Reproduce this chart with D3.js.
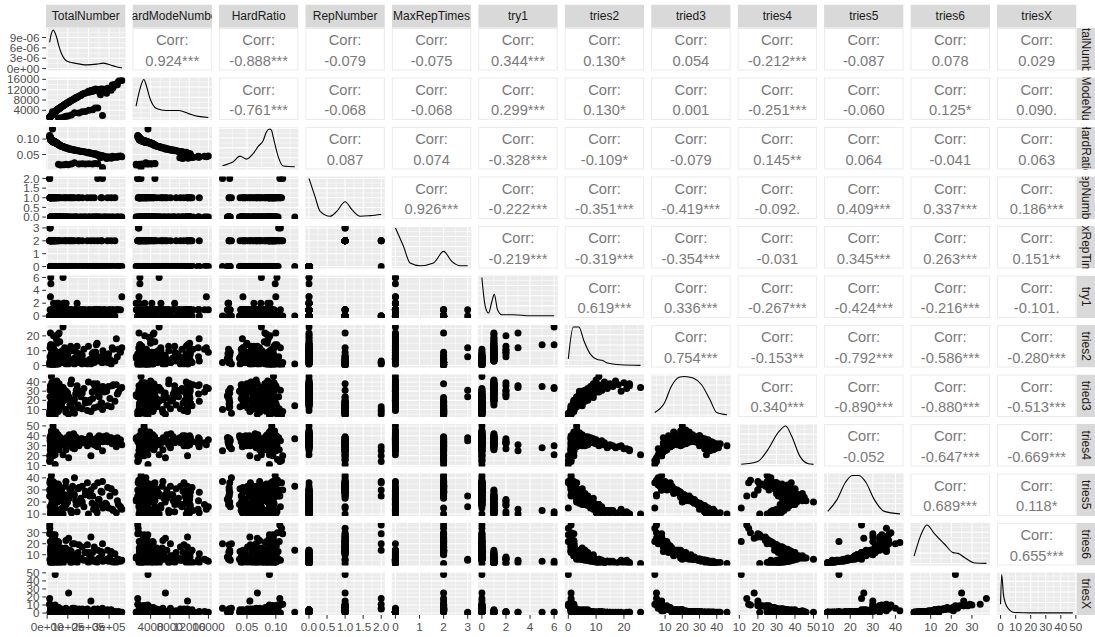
<!DOCTYPE html>
<html><head><meta charset="utf-8">
<script src="https://cdn.jsdelivr.net/npm/d3@7"></script>
<style>body{margin:0;background:#fff}svg{display:block}text{font-family:"Liberation Sans",Arial,Helvetica,sans-serif}</style>
</head><body><svg id="c" width="1095" height="637"></svg>
<script>
const varNames = ["TotalNumber","HardModeNumber","HardRatio","RepNumber","MaxRepTimes","try1","tries2","tried3","tries4","tries5","tries6","triesX"];

const totalNumber = [361908,345000,335000,320000,310000,298000,288000,276000,265000,258000,
252000,242000,235000,225000,212000,200000,185000,170000,158000,145000,
138000,128000,118000,110000,104000,97000,93000,89000,85000,81000,
77000,73000,70000,67000,64000,61000,58000,57000,55500,54000,
52500,51000,49500,48000,46500,45000,44000,43000,42000,41000,
39000,38000,37000,36000,35000,34000,33000,32000,31000,30500,
30000,29000,28500,28000,27000,26500,26000,25500,25000,24000,
23500,23000,22000,21000,20500,19500,19000,18500,18000,17500,
17000,16500,16000,15500,15000,14500,14000,13000,12500,12000,
55000,80630,101503,132286,153880,185000,220000,245000,268000,
355000,340000,328000,315000,304000,293000,282000,270000,261000,248000,
238000,228000,218000,206000,195000,178000,163000,150000,141000,132000,
123000,114000,107000,99000,91000,83000,75000,68000,62000,65000,
92000,117000,170000,202000,232000,59000,53000,50000,47000,44500,
42500,40000,38500,36500,35500,34500,33500,32500,31500,29500,
27500,26800,25800,24500,22500,21500,20800,19800,18800,17800,16800];
const hardModeNumber = [15562,15180,14070,12800,11780,12218,10656,12144,12190,10062,
12096,12100,12220,11925,11660,11400,10730,10200,9638,8990,
8694,8192,7788,7370,7072,6790,6603,6408,6120,5994,
5775,5548,5390,5226,5056,4880,4698,4731,4551,4536,
4463,4284,4257,4176,3999,3960,3828,3827,3696,3690,
3471,3458,3256,3240,3220,3026,3003,2976,2790,2806,
2820,2639,2651,2660,2484,2491,3458,2448,2325,2280,
2280,2162,2156,2016,2030,1950,1843,1869,1782,1785,
1666,1716,1600,1643,1545,1566,1470,1430,1338,1344,
990,1362,1763,3017,2924,3515,4180,4900,2010,
15975,13940,14104,13860,12160,12599,11562,12150,12267,11408,
11662,11628,11336,11124,10920,10502,9780,9300,9024,8580,
8118,7752,7383,7029,6552,6142,5700,5236,4898,1040,
1656,2223,3400,4040,4872,4838,4452,4300,3995,3916,
3783,3600,3427,3322,3195,3174,3116,2958,2961,2714,
2613,2492,2477,2303,2183,2043,2038,1901,1861,1727,1697];
const hardRatio = [0.043,0.044,0.042,0.040,0.038,0.041,0.037,0.044,0.046,0.039,
0.048,0.050,0.052,0.053,0.055,0.057,0.058,0.060,0.061,0.062,
0.063,0.064,0.066,0.067,0.068,0.070,0.071,0.072,0.072,0.074,
0.075,0.076,0.077,0.078,0.079,0.080,0.081,0.083,0.082,0.084,
0.085,0.084,0.086,0.087,0.086,0.088,0.087,0.089,0.088,0.090,
0.089,0.091,0.088,0.090,0.092,0.089,0.091,0.093,0.090,0.092,
0.094,0.091,0.093,0.095,0.092,0.094,0.133,0.096,0.093,0.095,
0.097,0.094,0.098,0.096,0.099,0.100,0.097,0.101,0.099,0.102,
0.098,0.104,0.100,0.106,0.103,0.108,0.105,0.110,0.107,0.112,
0.018,0.017,0.017,0.023,0.019,0.019,0.019,0.020,0.0075,
0.045,0.041,0.043,0.044,0.040,0.043,0.041,0.045,0.047,0.046,
0.049,0.051,0.052,0.054,0.056,0.059,0.060,0.062,0.064,0.065,
0.066,0.068,0.069,0.071,0.072,0.074,0.076,0.077,0.079,0.016,
0.018,0.019,0.020,0.020,0.021,0.082,0.084,0.086,0.085,0.088,
0.089,0.090,0.089,0.091,0.090,0.092,0.093,0.091,0.094,0.092,
0.095,0.093,0.096,0.094,0.097,0.095,0.098,0.096,0.099,0.097,0.101];
const repNumber = [0,0,0,0,1,0,0,0,1,0, 0,0,0,0,1,0,0,1,0,0, 0,0,0,1,1,0,0,1,0,1,
0,0,0,0,0,0,1,0,1,0, 0,0,0,1,0,1,0,0,0,1, 1,0,1,0,0,0,0,1,0,0,
0,1,0,1,0,0,0,1,1,0, 0,0,0,0,1,1,1,1,0,0, 1,0,0,1,1,1,1,1,2,2, 0,0,0,1,1,0,0,2,2,
0,0,1,0,0,1,0,0,1,0, 0,1,0,0,1,0,0,1,0,0, 1,0,0,0,1,0,0,1,0,0, 0,1,0,0,0,0,1,0,0,1,
0,0,1,0,0,1,0,0,1,0, 0,0,1,0,0,1,0,0,1,0,0];
const maxRepTimes = [0,0,0,0,2,0,0,0,2,0, 0,0,0,0,2,0,0,2,0,0, 0,0,0,2,2,0,0,2,0,2,
0,0,0,0,0,0,2,0,2,0, 0,0,0,2,0,2,0,0,0,2, 2,0,2,0,0,0,0,2,0,0,
0,2,0,2,0,0,0,2,2,0, 0,0,0,0,2,2,2,2,0,0, 2,0,0,2,2,3,3,2,2,2, 0,0,0,2,2,0,0,2,0,
0,0,2,0,0,2,0,0,2,0, 0,2,0,0,2,0,0,2,0,0, 2,0,0,0,2,0,0,2,0,0, 0,2,0,0,0,0,2,0,0,2,
0,0,2,0,0,2,0,0,2,0, 0,0,2,0,0,2,0,0,2,0,0];
const try1 = [3,1,1,1,0,1,0,1,0,1, 1,1,1,1,0,1,1,0,1,2, 1,0,1,1,0,1,1,0,1,1,
6,1,0,1,0,1,1,0,0,1, 0,0,2,0,1,0,0,0,1,0, 0,0,0,0,0,0,0,0,2,0,
1,0,0,0,0,0,0,0,0,0, 0,1,0,0,0,0,0,0,5,6, 0,0,3,0,0,1,0,0,0,0, 2,2,0,0,0,0,0,0,0,
1,1,0,1,1,0,1,1,0,1, 1,0,1,1,0,1,1,0,1,1, 0,1,0,1,0,2,1,0,1,1, 2,0,1,0,1,0,0,0,1,0,
0,0,0,0,0,0,1,0,0,0, 0,0,0,0,1,0,0,0,0,0,0];
const tries2 = [12,11,18,11,1,8,5,7,2,6, 4,15,9,9,1,13,3,1,8,13, 4,2,10,3,1,5,3,2,12,7,
26,10,2,5,2,16,22,5,1,21, 3,1,9,4,17,2,6,2,19,1, 0,5,1,10,4,7,5,1,20,3,
6,9,3,0,8,3,1,6,2,7, 4,4,4,11,1,5,4,2,14,14, 5,1,22,2,1,12,6,0,1,2, 6,8,4,1,2,2,6,3,2,
9,6,3,12,4,2,7,10,3,5, 14,2,8,4,1,11,6,3,9,5, 2,13,4,7,1,10,4,2,8,5, 11,2,7,3,9,4,1,6,15,2,
5,3,1,7,4,2,11,3,1,6, 2,4,1,5,13,2,3,8,1,4,2];
const tried3 = [34,29,37,37,13,35,30,29,17,31, 24,38,31,38,8,40,17,11,30,36, 27,19,42,15,5,25,21,10,31,20,
34,34,16,22,18,35,38,20,9,33, 19,12,27,16,41,14,28,15,30,10, 4,26,8,29,23,33,27,7,39,22,
24,23,20,6,27,24,14,19,9,25, 30,20,21,46,8,17,18,13,35,33, 14,9,36,11,5,31,24,4,5,8, 26,24,25,6,12,20,22,13,10,
33,27,19,36,22,14,30,35,17,26, 37,12,29,20,9,33,24,15,31,21, 11,38,23,28,7,31,19,13,27,25, 30,16,28,18,33,21,8,25,36,12,
24,20,6,30,18,10,35,16,9,27, 14,22,7,26,39,11,19,32,10,17,15];
const tries4 = [31,33,29,34,38,36,40,39,39,38, 40,31,37,33,20,32,36,33,35,33, 39,42,32,35,18,34,38,34,34,31,
21,35,35,35,33,30,26,38,28,27, 41,40,35,37,28,36,38,44,30,31, 11,39,25,36,43,37,36,22,27,46,
36,33,50,20,38,44,37,30,24,36, 40,42,37,30,25,32,34,29,28,30, 30,38,25,26,16,35,38,15,14,20, 37,34,38,27,30,36,32,29,25,
36,38,37,32,38,34,37,34,35,39, 30,31,36,40,30,33,37,36,35,36, 28,31,41,36,26,33,35,33,34,38, 32,35,37,36,35,39,27,36,30,32,
40,43,21,38,33,30,34,38,33,39, 37,42,24,41,31,29,45,37,36,31,40];
const tries5 = [14,18,11,13,31,15,18,18,28,18, 22,11,17,14,30,10,29,33,19,12, 21,26,11,30,26,23,25,33,15,25,
10,15,30,25,29,13,10,25,34,12, 26,31,20,28,10,30,20,27,14,35, 15,21,33,18,22,17,22,35,10,21,
23,23,20,37,19,21,33,27,34,22, 19,24,26,10,42,29,28,31,13,12, 31,36,10,30,38,16,25,36,25,30, 21,22,23,40,32,26,25,36,37,
16,21,28,14,25,32,19,15,29,22, 13,33,19,25,36,16,23,31,18,26, 33,13,23,20,37,17,27,31,21,22, 18,30,20,28,16,25,35,22,13,32,
22,24,34,18,29,36,14,29,35,20, 31,23,33,20,12,34,24,17,34,30,30];
const tries6 = [5,6,3,3,13,4,6,5,11,5, 7,3,4,4,26,3,12,17,6,3, 7,9,3,14,25,10,10,16,5,12,
2,4,13,10,14,4,2,10,21,5, 9,12,6,12,2,14,6,9,5,18, 22,7,24,6,7,5,8,26,2,7,
8,10,6,28,7,7,14,14,23,8, 6,8,10,2,21,14,13,18,4,4, 16,13,3,22,30,5,6,34,37,29, 7,8,8,20,19,12,12,14,20,
4,6,11,4,8,14,5,4,13,6, 4,17,6,8,19,5,7,12,5,9, 20,3,7,6,23,6,11,16,7,8, 6,13,6,12,5,9,22,9,4,17,
7,8,28,6,13,17,4,11,17,6, 13,7,26,6,3,18,7,5,15,14,10];
const triesX = [1,2,1,1,4,1,1,1,3,1, 2,1,1,1,15,1,2,5,1,1, 1,2,1,2,25,2,2,5,2,4,
1,1,4,2,4,1,1,2,7,1, 2,4,1,3,1,4,2,3,1,5, 48,2,9,1,1,1,2,9,0,1,
2,2,1,9,1,1,1,4,8,2, 1,1,2,1,3,3,3,7,1,1, 4,3,1,9,10,0,1,11,18,11, 1,2,2,6,5,4,3,5,6,
1,1,2,1,2,4,1,1,3,1, 1,5,1,2,5,1,2,3,1,2, 6,1,2,2,6,1,3,5,2,1, 1,4,1,3,1,2,7,2,1,5,
2,2,10,1,3,5,1,3,5,2, 3,2,9,2,1,6,2,1,4,4,3];

// correlation labels, upper triangle, row by row
const corrValues = [
"0.924***","-0.888***","-0.079","-0.075","0.344***","0.130*","0.054","-0.212***","-0.087","0.078","0.029",
"-0.761***","-0.068","-0.068","0.299***","0.130*","0.001","-0.251***","-0.060","0.125*","0.090.",
"0.087","0.074","-0.328***","-0.109*","-0.079","0.145**","0.064","-0.041","0.063",
"0.926***","-0.222***","-0.351***","-0.419***","-0.092.","0.409***","0.337***","0.186***",
"-0.219***","-0.319***","-0.354***","-0.031","0.345***","0.263***","0.151**",
"0.619***","0.336***","-0.267***","-0.424***","-0.216***","-0.101.",
"0.754***","-0.153**","-0.792***","-0.586***","-0.280***",
"0.340***","-0.890***","-0.880***","-0.513***",
"-0.052","-0.647***","-0.669***",
"0.689***","0.118*",
"0.655***"];

// diagonal density curves
const densTotalX = [12000,20000,29848,38000,46310,57000,70517,94724,143139,191554,239968,271922,320336,352774,361908];
const densTotalY = [7.6e-6,10.0e-6,11.2e-6,10.4e-6,9.0e-6,6.5e-6,4.2e-6,2.2e-6,1.46e-6,1.08e-6,1.28e-6,1.57e-6,0.79e-6,0.29e-6,0.2e-6];
const densHardX = [990,1793,2600,3205,3810,5222,7238,9859,11876,13892,15975];
const densHardY = [11.6,28,37.3,30,19.9,9.3,7.3,7.3,4.3,1.6,0.6];
const densRatioX = [0.0075,0.0166,0.0261,0.0377,0.0494,0.0608,0.0702,0.0782,0.0835,0.0886,0.0925,0.0956,0.1043,0.1129,0.1303,0.133];
const densRatioY = [1.9,3.5,5.9,11.6,8.6,14.3,22,27.6,36,39.3,38,30.9,10.9,1.6,0.9,0.9];
const densRepX = [0,0.17,0.31,0.586,0.77,1.0,1.19,1.42,1.7,2.0];
const densRepY = [40,20.9,5.9,0.9,5.9,15.9,7.6,0.9,1.5,2.6];
const densMaxRepX = [0,0.336,0.61,1.03,1.58,2.0,2.34,2.69,3.0];
const densMaxRepY = [38.5,20.1,3.5,0.8,3.5,15.1,5.1,0.8,0.8];
const densTry1X = [0,0.28,0.555,0.837,1.03,1.3,1.67,2.63,4.0,6.0];
const densTry1Y = [38,9.6,3.0,14.6,21.3,6.3,1.3,1.3,0.3,0.3];
const densTries2X = [0,1.8,3.8,5.6,8.0,10.4,12.2,14.0,18.8,26];
const densTries2Y = [6.5,37.5,37.5,24.1,10.8,5.8,5.1,2.5,0.8,0.2];
const densTried3X = [4,9.6,13.6,18.5,21.4,26.3,31.2,36.1,40,46];
const densTried3Y = [2.6,12.0,28.6,38.0,38.6,37.0,30.3,15.3,2.6,0.3];
const densTries4X = [11,19.9,25.4,30.9,35.0,38.2,42.7,47.3,50];
const densTries4Y = [0.3,3.1,14.8,31.5,38.1,28.1,8.1,0.8,0.2];
const densTries5X = [10,14.2,17.9,20.9,23.9,26.9,30.6,35.1,42];
const densTries5Y = [2.6,14.3,31.0,37.6,37.6,31.0,14.3,2.6,0.2];
const densTries6X = [2,5.2,8.2,11.8,16.7,20.9,23.3,26.6,31.5,37];
const densTries6Y = [7.1,27.1,37.1,28.8,18.8,10.5,9.8,5.5,0.5,0.2];
const densTriesXX = [0,0.73,2.0,4.7,9.0,20,48];
const densTriesXY = [8.3,36.6,16.6,5.0,0.6,0.2,0.2];

// axis breaks and labels
const tickVals = [[0,100000,200000,300000],[4000,8000,12000,16000],[0.05,0.10],[0,0.5,1,1.5,2],[0,1,2,3],[0,2,4,6],[0,10,20],[10,20,30,40],[10,20,30,40,50],[10,20,30,40],[10,20,30],[0,10,20,30,40,50]];
const tickLabels = [["0e+00","1e+05","2e+05","3e+05"],["4000","8000","12000","16000"],["0.05","0.10"],["0.0","0.5","1.0","1.5","2.0"],["0","1","2","3"],["0","2","4","6"],["0","10","20"],["10","20","30","40"],["10","20","30","40","50"],["10","20","30","40"],["10","20","30"],["0","10","20","30","40","50"]];
const densTickVals = [0,3e-6,6e-6,9e-6];
const densTickLabels = ["0e+00","3e-06","6e-06","9e-06"];

// ---------- layout ----------
const X0=46, SX=86.45, PW=79.5, Y0=28, SY=49.5, PH=42.5;
const N=12;
const cols=[totalNumber,hardModeNumber,hardRatio,repNumber,maxRepTimes,try1,tries2,tried3,tries4,tries5,tries6,triesX];
const densX=[densTotalX,densHardX,densRatioX,densRepX,densMaxRepX,densTry1X,densTries2X,densTried3X,densTries4X,densTries5X,densTries6X,densTriesXX];
const densY=[densTotalY,densHardY,densRatioY,densRepY,densMaxRepY,densTry1Y,densTries2Y,densTried3Y,densTries4Y,densTries5Y,densTries6Y,densTriesXY];
function expand(e){const r=(e[1]-e[0])||1;return [e[0]-0.05*r,e[1]+0.05*r];}
const xS=cols.map((v,j)=>d3.scaleLinear().domain(expand(d3.extent(v))).range([X0+j*SX,X0+j*SX+PW]));
const yS=cols.map((v,i)=>d3.scaleLinear().domain(expand(d3.extent(v))).range([Y0+i*SY+PH,Y0+i*SY]));
const dS=densY.map((v,i)=>d3.scaleLinear().domain(expand([0,d3.max(v)])).range([Y0+i*SY+PH,Y0+i*SY]));

const svg=d3.select("#c");
const defs=svg.append("defs");
function clip(id,x,y,w,h){defs.append("clipPath").attr("id",id).append("rect").attr("x",x).attr("y",y).attr("width",w).attr("height",h);return "url(#"+id+")";}
function minorBreaks(maj,dom){const st=maj[1]-maj[0];const ext=[maj[0]-st,...maj,maj[maj.length-1]+st];const out=[];for(let k=0;k<ext.length-1;k++){const m=(ext[k]+ext[k+1])/2;if(m>=dom[0]&&m<=dom[1])out.push(m);}return out;}
function inDom(v,d){return v>=d[0]&&v<=d[1];}

function grid(gp,xs,ys,xMaj,yMaj){
  const xd=xs.domain(),yd=ys.domain(),xr=xs.range(),yr=ys.range();
  minorBreaks(xMaj,xd).forEach(v=>gp.append("line").attr("x1",xs(v)).attr("x2",xs(v)).attr("y1",yr[0]).attr("y2",yr[1]).attr("stroke","#fff").attr("stroke-width",0.55));
  minorBreaks(yMaj,yd).forEach(v=>gp.append("line").attr("y1",ys(v)).attr("y2",ys(v)).attr("x1",xr[0]).attr("x2",xr[1]).attr("stroke","#fff").attr("stroke-width",0.55));
  xMaj.filter(v=>inDom(v,xd)).forEach(v=>gp.append("line").attr("x1",xs(v)).attr("x2",xs(v)).attr("y1",yr[0]).attr("y2",yr[1]).attr("stroke","#fff").attr("stroke-width",1.07));
  yMaj.filter(v=>inDom(v,yd)).forEach(v=>gp.append("line").attr("y1",ys(v)).attr("y2",ys(v)).attr("x1",xr[0]).attr("x2",xr[1]).attr("stroke","#fff").attr("stroke-width",1.07));
}

let k=0;
for(let i=0;i<N;i++){
  for(let j=0;j<N;j++){
    const px=X0+j*SX, py=Y0+i*SY;
    const gp=svg.append("g");
    if(j>i){
      gp.append("rect").attr("x",px+0.5).attr("y",py+0.5).attr("width",PW-1).attr("height",PH-1).attr("fill","#fff").attr("stroke","#EBEBEB").attr("stroke-width",1);
      gp.append("text").attr("x",px+PW/2).attr("y",py+17.2).attr("text-anchor","middle").attr("font-size","14.7px").attr("fill","#7a7a7a").text("Corr:");
      gp.append("text").attr("x",px+PW/2).attr("y",py+37.6).attr("text-anchor","middle").attr("font-size","14.7px").attr("fill","#7a7a7a").text(corrValues[k++]);
      continue;
    }
    gp.append("rect").attr("x",px).attr("y",py).attr("width",PW).attr("height",PH).attr("fill","#EBEBEB");
    const cp=clip("p"+i+"_"+j,px,py,PW,PH);
    const inner=gp.append("g").attr("clip-path",cp);
    if(i===j){
      const ys=dS[i];
      const yMaj=(i===0)?densTickVals:ys.ticks(4);
      grid(inner,xS[j],ys,tickVals[j],yMaj);
      const line=d3.line().x((d,q)=>xS[j](densX[i][q])).y(d=>ys(d)).curve(d3.curveMonotoneX);
      inner.append("path").attr("d",line(densY[i])).attr("fill","none").attr("stroke","#000").attr("stroke-width",1.1);
    } else {
      grid(inner,xS[j],yS[i],tickVals[j],tickVals[i]);
      inner.selectAll("circle").data(cols[j]).join("circle")
        .attr("cx",d=>xS[j](d)).attr("cy",(d,q)=>yS[i](cols[i][q])).attr("r",3.5).attr("fill","#000");
    }
  }
}

// top strips
for(let j=0;j<N;j++){
  const px=X0+j*SX;
  const cp=clip("ts"+j,px,4.5,PW,23.3);
  const gs=svg.append("g").attr("clip-path",cp);
  gs.append("rect").attr("x",px).attr("y",4.5).attr("width",PW).attr("height",23.3).attr("fill","#D9D9D9");
  gs.append("text").attr("x",px+PW/2).attr("y",4.5+11.65+4.2).attr("text-anchor","middle").attr("font-size","12px").attr("fill","#1A1A1A").text(varNames[j]);
}
// right strips
for(let i=0;i<N;i++){
  const py=Y0+i*SY;
  const cp=clip("rs"+i,1076.5,py,24,PH);
  const gs=svg.append("g").attr("clip-path",cp);
  gs.append("rect").attr("x",1076.5).attr("y",py).attr("width",24).attr("height",PH).attr("fill","#D9D9D9");
  gs.append("text").attr("transform","translate("+(1086.5)+","+(py+PH/2)+") rotate(90)").attr("text-anchor","middle").attr("dy","0.35em").attr("font-size","12px").attr("fill","#1A1A1A").text(varNames[i]);
}

// left axis
for(let i=0;i<N;i++){
  const ys=(i===0)?dS[0]:yS[i];
  const vals=(i===0)?densTickVals:tickVals[i];
  const labs=(i===0)?densTickLabels:tickLabels[i];
  vals.forEach((v,q)=>{
    if(!inDom(v,ys.domain()))return;
    const y=ys(v);
    svg.append("line").attr("x1",42.3).attr("x2",46).attr("y1",y).attr("y2",y).attr("stroke","#333").attr("stroke-width",1.07);
    svg.append("text").attr("x",39.6).attr("y",y).attr("dy","0.35em").attr("text-anchor","end").attr("font-size","11.7px").attr("fill","#4D4D4D").text(labs[q]);
  });
}
// bottom axis
const yB=Y0+(N-1)*SY+PH;
for(let j=0;j<N;j++){
  const xs=xS[j];
  tickVals[j].forEach((v,q)=>{
    if(!inDom(v,xs.domain()))return;
    const x=xs(v);
    svg.append("line").attr("x1",x).attr("x2",x).attr("y1",yB).attr("y2",yB+3.7).attr("stroke","#333").attr("stroke-width",1.07);
    svg.append("text").attr("x",x).attr("y",yB+15.8).attr("text-anchor","middle").attr("font-size","11.7px").attr("fill","#4D4D4D").text(tickLabels[j][q]);
  });
}
</script></body></html>
